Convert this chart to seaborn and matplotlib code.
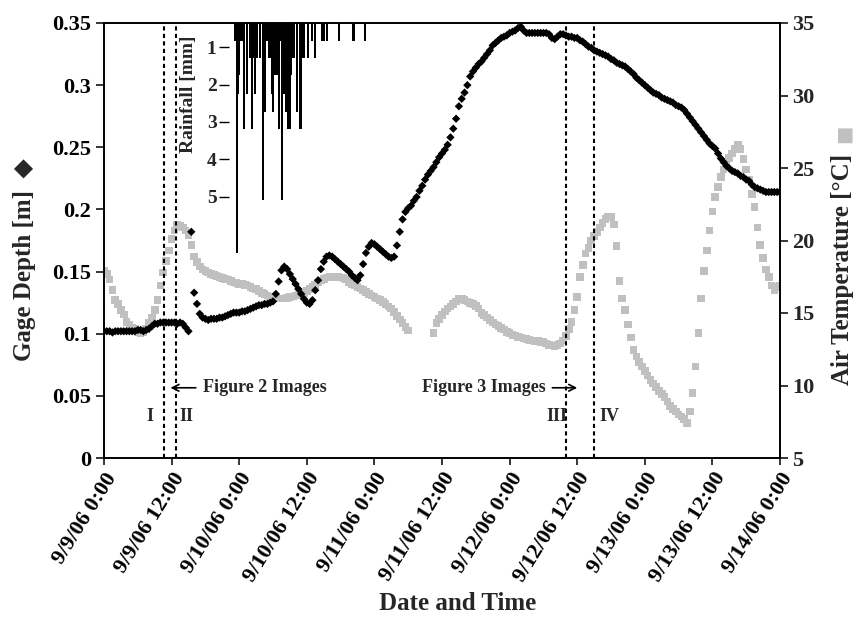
import matplotlib
matplotlib.use("Agg")
import matplotlib.pyplot as plt
import seaborn as sns
import numpy as np
import pandas as pd

# ---------------- data ----------------
tick_labels = ["9/9/06 0:00", "9/9/06 12:00", "9/10/06 0:00", "9/10/06 12:00",
               "9/11/06 0:00", "9/11/06 12:00", "9/12/06 0:00", "9/12/06 12:00",
               "9/13/06 0:00", "9/13/06 12:00", "9/14/06 0:00"]
tick_hours = [0, 12, 24, 36, 48, 60, 72, 84, 96, 108, 120]

# gage depth [m], every 30 min from 9/9/06 0:00
depth_m = [0.102, 0.102, 0.102, 0.101, 0.102, 0.102, 0.102, 0.102, 0.102, 0.102,
           0.102, 0.102, 0.103, 0.103, 0.102, 0.103, 0.104, 0.106, 0.108, 0.108,
           0.109, 0.109, 0.109, 0.109, 0.109, 0.109, 0.108, 0.109, 0.108, 0.105,
           0.102, 0.182, 0.133, 0.124, 0.116, 0.113, 0.112, 0.111, 0.112, 0.112,
           0.112, 0.113, 0.113, 0.114, 0.115, 0.116, 0.117, 0.117, 0.117, 0.118,
           0.118, 0.119, 0.120, 0.121, 0.122, 0.123, 0.123, 0.124, 0.124, 0.125,
           0.126, 0.132, 0.142, 0.151, 0.154, 0.152, 0.148, 0.144, 0.140, 0.136,
           0.132, 0.128, 0.125, 0.124, 0.127, 0.135, 0.143, 0.152, 0.158, 0.162,
           0.163, 0.162, 0.160, 0.158, 0.156, 0.154, 0.152, 0.150, 0.147, 0.145,
           0.143, 0.147, 0.156, 0.165, 0.170, 0.173, 0.172, 0.170, 0.168, 0.166,
           0.164, 0.162, 0.161, 0.162, 0.171, 0.182, 0.192, 0.198, 0.201, 0.203,
           0.207, 0.210, 0.215, 0.219, 0.224, 0.228, 0.231, 0.234, 0.238, 0.242,
           0.245, 0.248, 0.252, 0.258, 0.265, 0.273, 0.283, 0.289, 0.294, 0.300,
           0.307, 0.311, 0.314, 0.317, 0.319, 0.322, 0.325, 0.328, 0.332, 0.334,
           0.336, 0.338, 0.339, 0.340, 0.342, 0.343, 0.344, 0.346, 0.347, 0.344,
           0.342, 0.342, 0.342, 0.342, 0.342, 0.342, 0.342, 0.342, 0.341, 0.338,
           0.337, 0.339, 0.341, 0.341, 0.340, 0.339, 0.339, 0.338, 0.338, 0.336,
           0.335, 0.333, 0.331, 0.330, 0.328, 0.327, 0.326, 0.325, 0.324, 0.323,
           0.321, 0.320, 0.318, 0.317, 0.316, 0.315, 0.313, 0.311, 0.309, 0.306,
           0.304, 0.302, 0.300, 0.298, 0.296, 0.294, 0.293, 0.292, 0.290, 0.289,
           0.288, 0.287, 0.286, 0.284, 0.283, 0.282, 0.280, 0.277, 0.274, 0.271,
           0.268, 0.265, 0.262, 0.259, 0.256, 0.253, 0.251, 0.249, 0.245, 0.241,
           0.238, 0.235, 0.233, 0.231, 0.230, 0.229, 0.227, 0.226, 0.224, 0.223,
           0.220, 0.218, 0.217, 0.216, 0.215, 0.214, 0.214, 0.214, 0.214, 0.214,
           0.214]
depth_hours = [i * 0.5 for i in range(len(depth_m))]

# air temperature [deg C], every 30 min from 9/9/06 0:00 (NaN = no data)
nan = float("nan")
temp_c = [17.9, 17.7, 17.3, 16.6, 15.9, 15.6, 15.2, 14.9, 14.4, 14.2,
          14.0, 13.9, 13.7, 13.6, 13.7, 13.9, 14.3, 14.7, 15.2, 15.9,
          16.9, 17.8, 18.6, 19.3, 20.1, 20.7, 21.1, 21.0, 20.9, 20.7,
          20.4, 19.7, 18.9, 18.5, 18.2, 18.0, 17.9, 17.8, 17.7, 17.6,
          17.55, 17.5, 17.4, 17.35, 17.3, 17.2, 17.1, 17.05, 17.0, 17.0,
          16.95, 16.9, 16.8, 16.7, 16.65, 16.5, 16.4, 16.3, 16.2, 16.15,
          16.1, 16.05, 16.0, 16.0, 16.0, 16.05, 16.1, 16.15, 16.2, 16.25,
          16.3, 16.4, 16.5, 16.65, 16.8, 16.95, 17.1, 17.25, 17.35, 17.45,
          17.5, 17.5, 17.5, 17.5, 17.45, 17.4, 17.3, 17.15, 17.0, 16.9,
          16.8, 16.7, 16.6, 16.45, 16.3, 16.2, 16.1, 16.0, 15.9, 15.75,
          15.6, 15.45, 15.3, 15.05, 14.8, 14.55, 14.3, 14.05, 13.8, nan,
          nan, nan, nan, nan, nan, nan, nan, 13.6, 14.3, 14.6,
          14.85, 15.1, 15.3, 15.45, 15.6, 15.8, 15.95, 16.0, 15.9, 15.8,
          15.7, 15.6, 15.5, 15.3, 15.0, 14.85, 14.7, 14.5, 14.35, 14.2,
          14.1, 13.95, 13.85, 13.7, 13.6, 13.5, 13.45, 13.35, 13.3, 13.25,
          13.2, 13.15, 13.1, 13.05, 13.05, 13.0, 13.0, 12.9, 12.8, 12.75,
          12.7, 12.8, 12.9, 13.1, 13.4, 13.9, 14.4, 15.2, 16.1, 17.5,
          18.3, 19.1, 19.5, 20.0, 20.3, 20.6, 20.9, 21.2, 21.5, 21.65,
          21.6, 21.1, 19.6, 17.2, 16.0, 15.2, 14.2, 13.3, 12.45, 12.0,
          11.6, 11.3, 11.0, 10.7, 10.4, 10.15, 9.9, 9.6, 9.4, 9.2,
          8.9, 8.6, 8.4, 8.2, 8.0, 7.85, 7.7, 7.4, 8.2, 9.5,
          11.3, 13.6, 16.0, 17.9, 19.3, 20.7, 22.0, 23.0, 23.7, 24.4,
          24.9, 25.3, 25.7, 26.0, 26.3, 26.6, 26.3, 25.6, 24.9, 24.2,
          23.2, 22.3, 20.9, 19.7, 18.8, 18.0, 17.5, 16.9, 16.6, 16.8,
          16.9]
temp_hours = [i * 0.5 for i in range(len(temp_c))]

# rainfall [mm] (inset, hanging from the top)
rain_hours = [23.2, 23.4, 23.6, 23.8, 24.0, 24.2, 24.4, 24.8, 25.4, 26.0,
              26.3, 26.6, 26.85, 27.1, 27.7, 28.2, 28.6, 29.0, 29.4, 29.9,
              30.0, 30.3, 30.6, 30.8, 31.1, 31.3, 31.6, 31.9, 32.2, 32.4,
              32.7, 33.0, 33.2, 33.5, 33.7, 34.2, 34.9, 35.2, 35.4, 36.2,
              36.9, 37.5, 38.8, 39.1, 39.6, 41.7, 44.3, 46.3]
rain_mm = [0.82, 0.82, 6.5, 2.25, 1.75, 0.82, 0.82, 3.2, 2.25, 1.29,
           3.2, 1.29, 2.25, 1.29, 1.29, 5.1, 2.73, 0.82, 1.29, 2.25,
           2.73, 1.75, 1.75, 1.29, 3.2, 0.82, 5.1, 2.25, 1.29, 2.73,
           3.2, 3.2, 1.75, 1.29, 1.29, 2.73, 3.2, 1.29, 1.29, 1.29,
           0.82, 1.29, 0.82, 0.82, 0.82, 0.82, 0.82, 0.82]

event_lines = [10.7, 12.8, 82.0, 87.0]
event_names = ["I", "II", "III", "IV"]
event_label_x = [8.2, 14.6, 80.4, 89.8]

# ---------------- style ----------------
sns.set_theme(style="white")
plt.rcParams["font.family"] = ["Liberation Serif", "DejaVu Sans"]
plt.rcParams["font.weight"] = "bold"
plt.rcParams["axes.labelweight"] = "bold"

W, H = 856, 619
fig = plt.figure(figsize=(W / 100, H / 100), dpi=100)
fig.patch.set_facecolor("white")

L, R, T, B = 104, 780, 23, 458
ax = fig.add_axes([L / W, 1 - B / H, (R - L) / W, (B - T) / H])
ax2 = ax.twinx()
ax.set_zorder(ax2.get_zorder() + 1)
ax.patch.set_visible(False)

df_t = pd.DataFrame({"h": temp_hours, "t": temp_c}).dropna()
df_d = pd.DataFrame({"h": depth_hours, "d": depth_m})

sns.scatterplot(data=df_t, x="h", y="t", ax=ax2, marker="s", s=30,
                color="#c0c0c0", edgecolor="none", linewidth=0, legend=False)
sns.scatterplot(data=df_d, x="h", y="d", ax=ax, marker="D", s=18,
                color="black", edgecolor="none", linewidth=0, legend=False)

ax.set_xlim(0, 120)
ax.set_ylim(0, 0.35)
ax2.set_ylim(5, 35)
ax.set_xticks(tick_hours)
ax.set_xticklabels(tick_labels, rotation=58, ha="right", va="top",
                   rotation_mode="anchor", fontsize=16, fontweight="bold")
ax.set_yticks([0, 0.05, 0.1, 0.15, 0.2, 0.25, 0.3, 0.35])
ax.set_yticklabels(["0", "0.05", "0.1", "0.15", "0.2", "0.25", "0.3", "0.35"],
                   fontsize=16, fontweight="bold")
ax2.set_yticks([5, 10, 15, 20, 25, 30, 35])
ax2.set_yticklabels([str(v) for v in [5, 10, 15, 20, 25, 30, 35]],
                    fontsize=16, fontweight="bold")
ax.set_xlabel("")
ax.set_ylabel("")
ax2.set_ylabel("")
for a in (ax, ax2):
    for s in a.spines.values():
        s.set_color("black")
        s.set_linewidth(1.2)
ax.tick_params(axis="both", direction="out", length=6, width=1.1,
               color="black", pad=3, labelcolor="black")
ax.tick_params(axis="x", length=5)
ax.tick_params(axis="y", left=True)
ax.tick_params(axis="x", bottom=True)
ax2.tick_params(axis="y", direction="out", length=6, width=1.1, right=True,
                color="black", pad=3)

for xv in event_lines:
    ax.axvline(xv, color="black", lw=1.5, ls=(0, (2, 1.6)), zorder=3)
for xv, nm in zip(event_label_x, event_names):
    ax.text(xv, 0.033, nm, ha="center", va="center", fontsize=13,
            fontweight="bold")

ax.annotate("", xy=(11.3, 0.0565), xytext=(16.8, 0.0565),
            arrowprops=dict(arrowstyle="->", color="black", lw=1.2))
ax.text(17.6, 0.0565, "Figure 2 Images", ha="left", va="center",
        fontsize=13, fontweight="bold")
ax.annotate("", xy=(84.5, 0.0565), xytext=(79.1, 0.0565),
            arrowprops=dict(arrowstyle="->", color="black", lw=1.2))
ax.text(78.4, 0.0565, "Figure 3 Images", ha="right", va="center",
        fontsize=13, fontweight="bold")

# rainfall inset
IL, IB = 229, 260
axr = fig.add_axes([IL / W, 1 - IB / H, (R - IL) / W, (IB - T) / H])
axr.set_zorder(ax.get_zorder() + 1)
axr.patch.set_visible(False)
axr.bar(rain_hours, rain_mm, width=0.4, color="black", linewidth=0)
axr.set_xlim((IL - L) / ((R - L) / 120.0), 120)
axr.set_ylim(6.70, 0.35)
for s in axr.spines.values():
    s.set_visible(False)
axr.set_xticks([])
axr.set_yticks([1, 2, 3, 4, 5])
axr.set_yticklabels(["1", "2", "3", "4", "5"], fontsize=14, fontweight="bold")
axr.tick_params(axis="y", left=True, direction="out", length=7, width=1.0,
                color="black", pad=2)
axr.grid(False)
ax.grid(False)
ax2.grid(False)

fig.text(189 / W, 1 - 94 / H, "Rainfall [mm]", rotation=90, ha="center",
         va="center", fontsize=14, fontweight="bold")
fig.text(25 / W, 1 - 260 / H, "Gage Depth [m]  \u25c6", rotation=90,
         ha="center", va="center", fontsize=18, fontweight="bold")
fig.text(843 / W, 1 - 269 / H, "Air Temperature [\u00b0C]", rotation=90,
         ha="center", va="center", fontsize=18, fontweight="bold")
fig.text(843 / W, 1 - 134 / H, "\u25a0", rotation=90, ha="center",
         va="center", fontsize=14, color="#c0c0c0",
         family=["DejaVu Sans"])
fig.text(458 / W, 1 - 603 / H, "Date and Time", ha="center", va="center",
         fontsize=18, fontweight="bold")

fig.savefig("out.png", dpi=100, facecolor="white")
